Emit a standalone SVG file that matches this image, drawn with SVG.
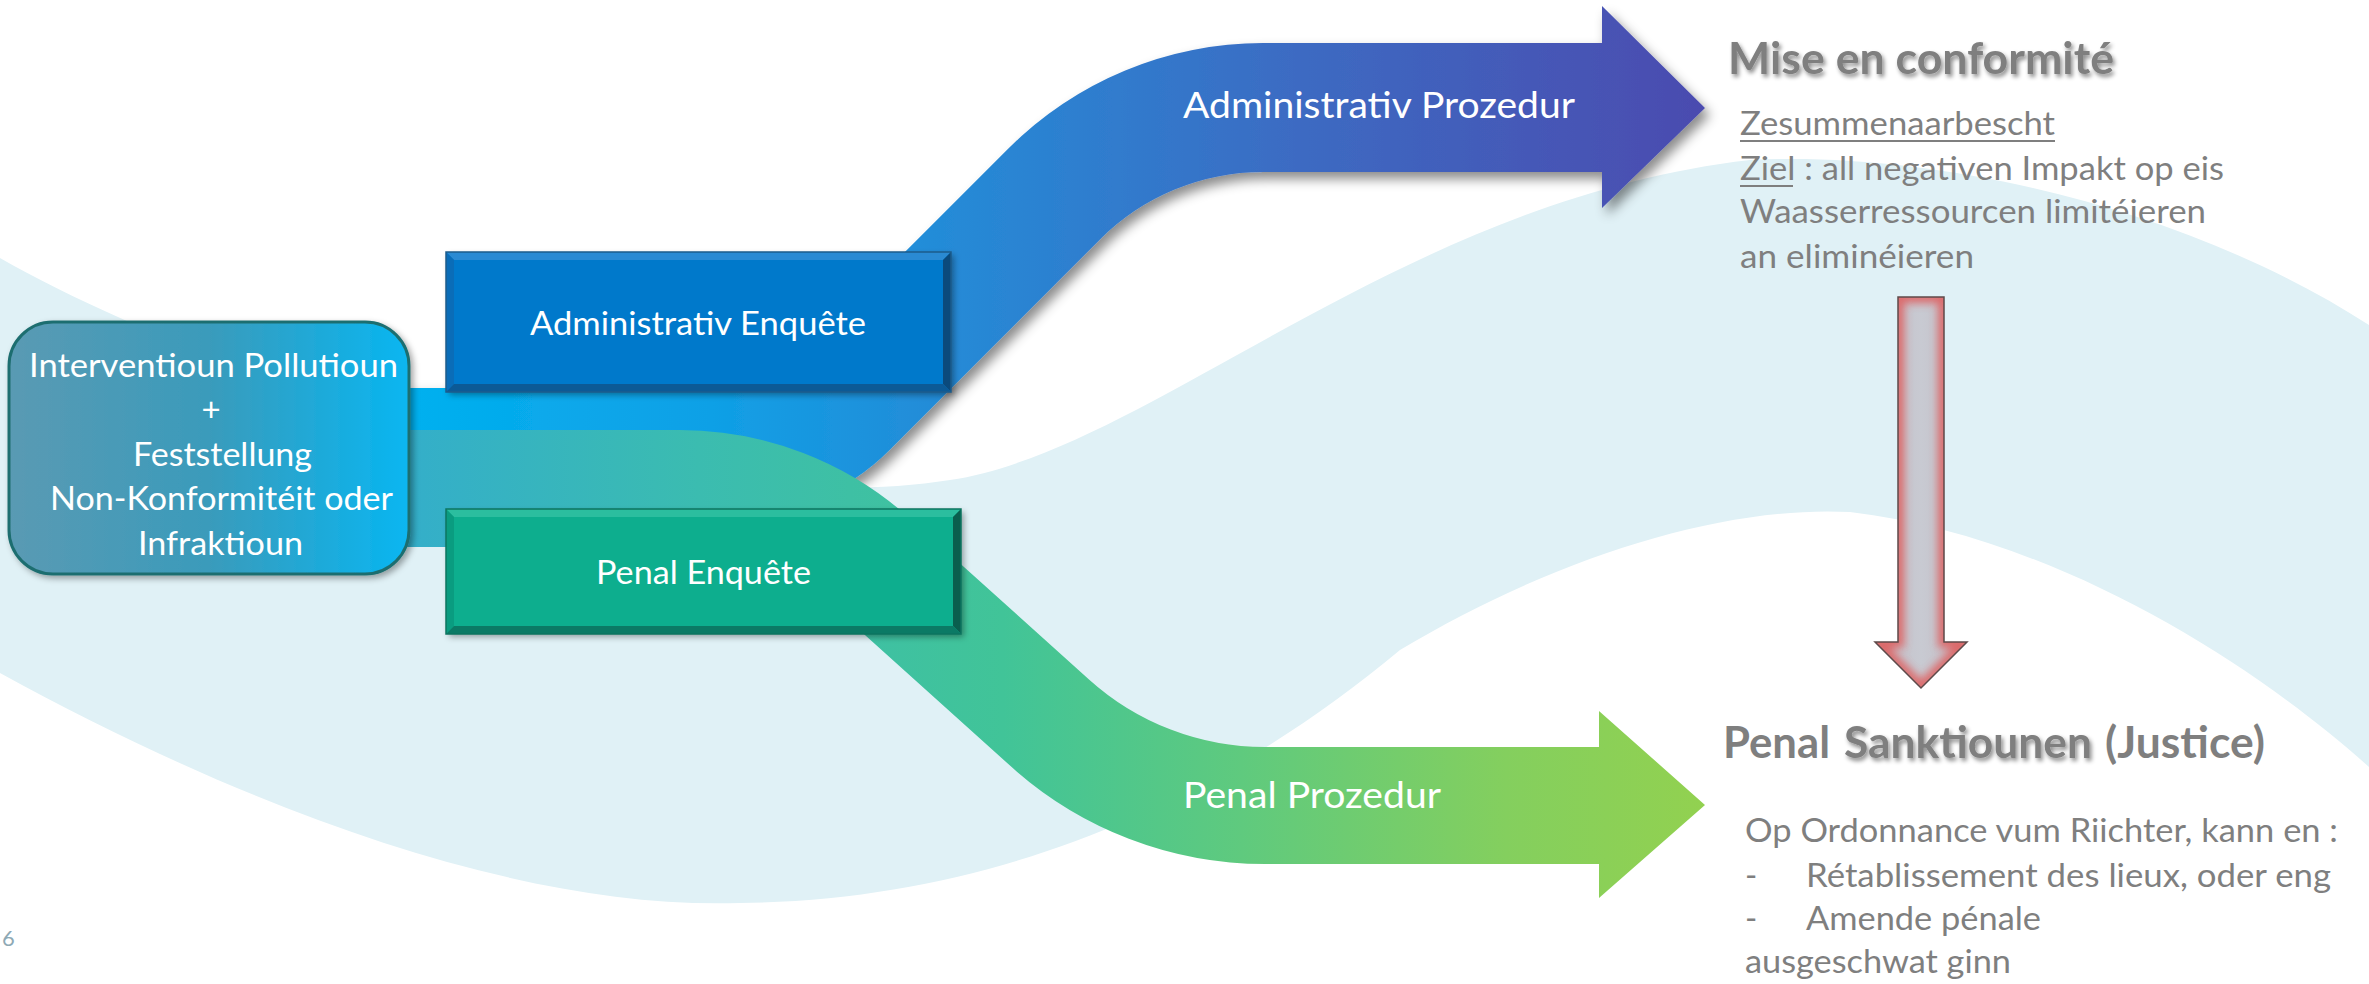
<svg xmlns="http://www.w3.org/2000/svg" width="2369" height="984" viewBox="0 0 2369 984">
<defs>
<style>
.wt{fill:#ffffff;font-family:Lato,"Open Sans","Liberation Sans",sans-serif;}
.gr{fill:#7f7f7f;font-family:Lato,"Open Sans","Liberation Sans",sans-serif;}
.b33{font-size:33px;}
.b37{font-size:37px;}
.hd{font-size:43px;font-weight:bold;}
.ul{stroke:#7f7f7f;stroke-width:2;}
</style>
<linearGradient id="gBlue" gradientUnits="userSpaceOnUse" x1="380" y1="0" x2="1705" y2="0">
<stop offset="0" stop-color="#00B2F0"/>
<stop offset="0.25" stop-color="#0FA0E6"/>
<stop offset="0.45" stop-color="#2788D5"/>
<stop offset="0.7" stop-color="#3D6AC2"/>
<stop offset="1" stop-color="#4B4BAF"/>
</linearGradient>
<linearGradient id="gGreen" gradientUnits="userSpaceOnUse" x1="380" y1="0" x2="1705" y2="0">
<stop offset="0" stop-color="#33ADCC"/>
<stop offset="0.24" stop-color="#3BBCB0"/>
<stop offset="0.47" stop-color="#41C498"/>
<stop offset="0.65" stop-color="#5FCA7E"/>
<stop offset="0.85" stop-color="#84CF5E"/>
<stop offset="1" stop-color="#92D150"/>
</linearGradient>
<linearGradient id="gBox" x1="0" y1="0" x2="1" y2="0">
<stop offset="0" stop-color="#5A9AB3"/>
<stop offset="0.5" stop-color="#3A9BBB"/>
<stop offset="1" stop-color="#08B6F1"/>
</linearGradient>
<linearGradient id="gDown" x1="0" y1="0" x2="1" y2="0">
<stop offset="0" stop-color="#C4BCC4"/>
<stop offset="0.5" stop-color="#C8CAD2"/>
<stop offset="1" stop-color="#C4BCC4"/>
</linearGradient>
<filter id="shArrow" x="-10%" y="-10%" width="130%" height="130%">
<feDropShadow dx="5" dy="7" stdDeviation="6" flood-color="#000" flood-opacity="0.45"/>
</filter>
<filter id="shBox" x="-10%" y="-10%" width="130%" height="130%">
<feDropShadow dx="3" dy="3" stdDeviation="3" flood-color="#000" flood-opacity="0.35"/>
</filter>
<filter id="shText" x="-5%" y="-20%" width="115%" height="160%">
<feDropShadow dx="2" dy="3" stdDeviation="2" flood-color="#000" flood-opacity="0.45"/>
</filter>
<filter id="blur4" x="-50%" y="-10%" width="200%" height="120%">
<feGaussianBlur stdDeviation="4"/>
</filter>
<path id="downShape" d="M1898,297 H1944 V642 H1967 L1921,688 L1875,642 H1898 Z"/>
<clipPath id="downClip"><use href="#downShape"/></clipPath>
</defs>

<rect x="0" y="0" width="2369" height="984" fill="#ffffff"/>

<!-- background wave -->
<path d="M0,258 C250,400 700,520 950,480 C1150,450 1400,200 1750,160 C1950,150 2200,215 2369,325 L2369,767 C2250,660 2050,535 1850,512 C1720,505 1550,560 1400,650 C1220,800 1000,900 740,903 C520,910 250,810 0,673 Z" fill="#E0F1F6"/>

<g id="connectors">
<g id="admin-procedure">
<path filter="url(#shArrow)" fill="url(#gBlue)" d="M380,388 H727.6 A100,100 0 0 0 798.3,358.7 L1008.4,148.4 A360,360 0 0 1 1263,43 H1602 V6 L1705,108 L1602,208 V172 H1263 A231,231 0 0 0 1099.7,239.7 L889.6,450 A229,229 0 0 1 727.6,517 H380 Z"/>
<text class="wt b37" x="1183" y="118" textLength="392" lengthAdjust="spacingAndGlyphs">Administrativ Prozedur</text>
</g>
<g id="penal-procedure">
<path fill="url(#gGreen)" d="M380,430 H680 A344,344 0 0 1 910,518.5 L1089,679.4 A263,263 0 0 0 1265,747 H1599 V711 L1705,805 L1599,898 V864 H1265 A380,380 0 0 1 1010.8,766.3 L831.9,605.3 A227,227 0 0 0 680,547 H380 Z"/>
<text class="wt b37" x="1183" y="808" textLength="258" lengthAdjust="spacingAndGlyphs">Penal Prozedur</text>
</g>
<g id="down-arrow">
<g clip-path="url(#downClip)">
<use href="#downShape" fill="url(#gDown)"/>
<use href="#downShape" fill="none" stroke="#E05A5A" stroke-width="12" filter="url(#blur4)" opacity="0.85"/>
</g>
<use href="#downShape" fill="none" stroke="#5E4A4A" stroke-width="1.5"/>
</g>
</g>

<g id="node-intervention">
<rect x="9" y="322" width="400" height="252" rx="44" ry="44" fill="url(#gBox)" stroke="#1F6E70" stroke-width="3" filter="url(#shBox)"/>
<text class="wt b33" x="29" y="377" textLength="369" lengthAdjust="spacingAndGlyphs">Interventioun Pollutioun</text>
<text class="wt b33" x="211" y="421" text-anchor="middle">+</text>
<text class="wt b33" x="133" y="466" textLength="179" lengthAdjust="spacingAndGlyphs">Feststellung</text>
<text class="wt b33" x="50" y="510" textLength="343" lengthAdjust="spacingAndGlyphs">Non-Konformitéit oder</text>
<text class="wt b33" x="138" y="555" textLength="165" lengthAdjust="spacingAndGlyphs">Infraktioun</text>
</g>

<g id="node-admin-enquete">
<rect x="446" y="252" width="505" height="140" fill="#0679CB" filter="url(#shBox)"/>
<polygon points="446,252 951,252 943,260 454,260" fill="#2A8AD3"/>
<polygon points="446,252 454,260 454,384 446,392" fill="#0A6DB8"/>
<polygon points="951,252 951,392 943,384 943,260" fill="#0B4A7C"/>
<polygon points="446,392 951,392 943,384 454,384" fill="#0C5A96"/>
<rect x="446" y="252" width="505" height="140" fill="none" stroke="#1C5C8C" stroke-width="1.5"/>
<text class="wt b33" x="530" y="335" textLength="336" lengthAdjust="spacingAndGlyphs">Administrativ Enquête</text>
</g>

<g id="node-penal-enquete">
<rect x="446" y="509" width="515" height="125" fill="#07AE8E" filter="url(#shBox)"/>
<polygon points="446,509 961,509 953,517 454,517" fill="#2BBE9F"/>
<polygon points="446,509 454,517 454,626 446,634" fill="#0A9C80"/>
<polygon points="961,509 961,634 953,626 953,517" fill="#0A5E4E"/>
<polygon points="446,634 961,634 953,626 454,626" fill="#0B7A65"/>
<rect x="446" y="509" width="515" height="125" fill="none" stroke="#0D7560" stroke-width="1.5"/>
<text class="wt b33" x="596" y="584" textLength="215" lengthAdjust="spacingAndGlyphs">Penal Enquête</text>
</g>

<g id="node-mise-en-conformite">
<text class="gr hd" x="1728" y="74" textLength="386" lengthAdjust="spacingAndGlyphs" filter="url(#shText)">Mise en conformité</text>
<text class="gr b33" x="1740" y="135" textLength="315" lengthAdjust="spacingAndGlyphs">Zesummenaarbescht</text>
<line class="ul" x1="1740" y1="141" x2="2055" y2="141"/>
<text class="gr b33" x="1740" y="180" textLength="484" lengthAdjust="spacingAndGlyphs">Ziel : all negativen Impakt op eis</text>
<line class="ul" x1="1740" y1="186" x2="1793" y2="186"/>
<text class="gr b33" x="1740" y="223" textLength="466" lengthAdjust="spacingAndGlyphs">Waasserressourcen limitéieren</text>
<text class="gr b33" x="1740" y="268" textLength="234" lengthAdjust="spacingAndGlyphs">an eliminéieren</text>
</g>

<g id="node-penal-sanktiounen">
<text class="gr hd" x="1723" y="758" textLength="107" lengthAdjust="spacingAndGlyphs">Penal</text>
<text class="gr hd" x="1844" y="758" textLength="248" lengthAdjust="spacingAndGlyphs" filter="url(#shText)">Sanktiounen</text>
<text class="gr hd" x="2105" y="758" textLength="160" lengthAdjust="spacingAndGlyphs">(Justice)</text>
<text class="gr b33" x="1745" y="842" textLength="593" lengthAdjust="spacingAndGlyphs">Op Ordonnance vum Riichter, kann en :</text>
<text class="gr b33" x="1745" y="887">-</text>
<text class="gr b33" x="1806" y="887" textLength="525" lengthAdjust="spacingAndGlyphs">Rétablissement des lieux, oder eng</text>
<text class="gr b33" x="1745" y="930">-</text>
<text class="gr b33" x="1806" y="930" textLength="235" lengthAdjust="spacingAndGlyphs">Amende pénale</text>
<text class="gr b33" x="1745" y="973" textLength="266" lengthAdjust="spacingAndGlyphs">ausgeschwat ginn</text>
</g>

<text x="2" y="946" fill="#8EA9B5" font-family="Lato,'Liberation Sans',sans-serif" font-size="22">6</text>
</svg>
